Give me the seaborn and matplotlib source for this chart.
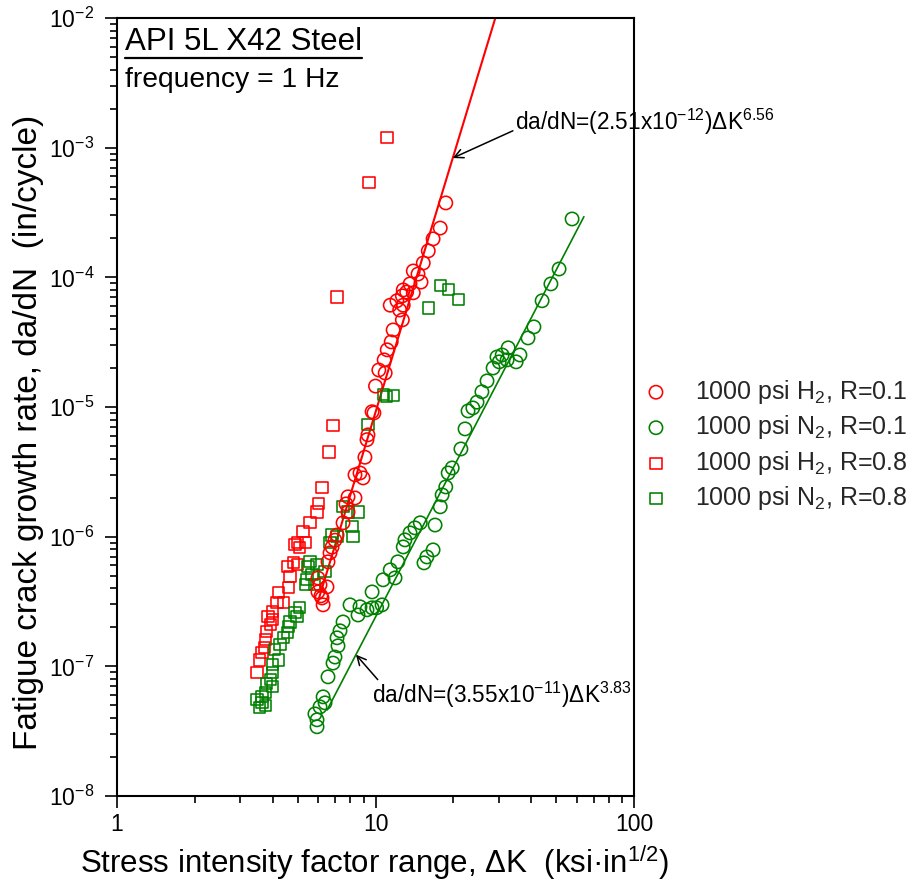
import numpy as np
import matplotlib
matplotlib.use("Agg")
import matplotlib.pyplot as plt
import matplotlib.ticker as mticker
from matplotlib.lines import Line2D
import seaborn as sns

# Stress intensity factor range dK (ksi*in^1/2) and growth rate da/dN (in/cycle)
h2_r01_dk = [18.7, 17.8, 16.7, 16.0, 15.3, 14.6, 14.0, 15.0, 13.6, 12.8, 13.2, 14.0,
             12.1, 12.7, 11.4, 12.8, 12.4, 12.7, 11.7, 11.5, 11.1, 10.8, 10.3, 10.9,
             10.0, 9.7, 9.86, 9.35, 9.27, 9.1, 8.33, 8.71, 8.95, 7.83, 8.33, 7.69,
             7.83, 7.49, 7.10, 6.97, 6.79, 6.67, 6.55, 5.99, 6.10, 6.49, 5.99, 6.21,
             6.27, 6.15]
h2_r01_rate = [3.75e-4, 2.4e-4, 1.98e-4, 1.6e-4, 1.29e-4, 1.06e-4, 1.12e-4, 9.2e-5,
               8.9e-5, 8.0e-5, 7.7e-5, 7.6e-5, 6.6e-5, 7.2e-5, 6.1e-5, 6.1e-5, 5.6e-5,
               4.7e-5, 3.93e-5, 3.18e-5, 2.76e-5, 2.31e-5, 1.93e-5, 1.83e-5, 1.45e-5,
               9.2e-6, 9.0e-6, 6.1e-6, 5.6e-6, 4.1e-6, 3.0e-6, 3.1e-6, 2.84e-6, 2.03e-6,
               1.99e-6, 1.79e-6, 1.55e-6, 1.28e-6, 1.03e-6, 9.4e-7, 8.3e-7, 7.5e-7,
               6.4e-7, 4.8e-7, 4.25e-7, 4.1e-7, 3.75e-7, 3.37e-7, 2.98e-7, 3.5e-7]

n2_r01_dk = [57.6, 51.3, 47.7, 44.1, 41.0, 38.9, 36.2, 35.0, 32.6, 32.3, 30.9, 29.5,
             30.1, 28.5, 27.0, 25.8, 24.7, 23.8, 22.8, 22.2, 21.4, 19.8, 19.1, 18.7,
             18.1, 17.8, 17.0, 16.7, 15.8, 15.4, 14.9, 14.2, 13.6, 13.0, 12.8, 12.2,
             11.4, 10.7, 11.9, 9.7, 10.6, 10.1, 9.7, 9.27, 8.71, 7.97, 8.56, 7.49,
             7.29, 7.10, 7.16, 6.97, 6.85, 6.55, 6.27, 6.38, 6.10, 5.83, 5.94, 5.94]
n2_r01_rate = [2.82e-4, 1.16e-4, 8.9e-5, 6.6e-5, 4.15e-5, 3.41e-5, 2.52e-5, 2.23e-5,
               2.86e-5, 2.31e-5, 2.52e-5, 2.43e-5, 2.23e-5, 2.0e-5, 1.59e-5, 1.31e-5,
               1.09e-5, 9.84e-6, 9.33e-6, 6.78e-6, 4.75e-6, 3.39e-6, 3.1e-6, 2.42e-6,
               2.1e-6, 1.7e-6, 1.23e-6, 7.91e-7, 6.98e-7, 6.28e-7, 1.28e-6, 1.17e-6,
               1.07e-6, 9.45e-7, 8.34e-7, 6.4e-7, 5.55e-7, 4.65e-7, 4.81e-7, 3.75e-7,
               2.98e-7, 2.83e-7, 2.83e-7, 2.73e-7, 2.88e-7, 2.98e-7, 2.49e-7, 2.2e-7,
               1.88e-7, 1.66e-7, 1.44e-7, 1.18e-7, 1.06e-7, 8.3e-8, 5.82e-8, 5.23e-8,
               4.87e-8, 4.3e-8, 3.87e-8, 3.42e-8]

h2_r08_dk = [11.08, 9.44, 7.10, 6.85, 6.61, 6.21, 6.04, 5.94, 5.58, 5.24, 5.34, 5.01,
             4.88, 5.10, 4.80, 5.01, 4.55, 4.67, 4.59, 4.20, 4.39, 4.16, 3.98, 3.84,
             3.98, 3.91, 3.80, 3.74, 3.71, 3.64, 3.57, 3.48]
h2_r08_rate = [1.19e-3, 5.35e-4, 7.06e-5, 7.15e-6, 4.5e-6, 2.38e-6, 1.79e-6, 1.55e-6,
               1.28e-6, 1.09e-6, 8.96e-7, 8.96e-7, 8.65e-7, 8.2e-7, 6.28e-7, 6.06e-7,
               5.85e-7, 4.9e-7, 4.03e-7, 3.69e-7, 3.09e-7, 3.09e-7, 2.63e-7, 2.41e-7,
               2.28e-7, 2.09e-7, 1.85e-7, 1.6e-7, 1.39e-7, 1.27e-7, 1.12e-7, 8.9e-8]

n2_r08_dk = [17.9, 19.1, 21.0, 16.0, 10.7, 11.0, 11.7, 9.35, 7.49, 7.83, 8.56, 8.11,
             8.18, 7.10, 6.79, 6.67, 6.38, 5.94, 5.58, 5.48, 5.68, 5.43, 5.34, 5.83,
             5.10, 4.88, 4.97, 4.67, 4.59, 4.55, 4.39, 4.27, 4.08, 4.20, 4.01, 3.98,
             3.91, 3.80, 4.01, 3.74, 3.64, 3.48, 3.64, 3.74, 3.57]
n2_r08_rate = [8.6e-5, 8.1e-5, 6.7e-5, 5.8e-5, 1.24e-5, 1.2e-5, 1.22e-5, 7.3e-6, 1.7e-6,
               1.55e-6, 1.55e-6, 1.19e-6, 9.96e-7, 9.96e-7, 1.03e-6, 8.96e-7, 5.35e-7,
               6.06e-7, 6.4e-7, 5.85e-7, 5.08e-7, 4.65e-7, 4.25e-7, 4.25e-7, 2.83e-7,
               2.59e-7, 2.41e-7, 2.2e-7, 2.02e-7, 1.81e-7, 1.66e-7, 1.47e-7, 1.34e-7,
               1.12e-7, 1.03e-7, 8.9e-8, 7.87e-8, 7.33e-8, 6.95e-8, 6.25e-8, 5.82e-8,
               5.52e-8, 5.23e-8, 4.96e-8, 4.79e-8]

series_labels = ["1000 psi H$_2$, R=0.1", "1000 psi N$_2$, R=0.1",
                 "1000 psi H$_2$, R=0.8", "1000 psi N$_2$, R=0.8"]

# Paris-law fits: da/dN = C * dK^m, over the dK span of each fit
fit_h2 = dict(C=2.51e-12, m=6.56, dk_lo=6.0, dk_hi=30.0)
fit_n2 = dict(C=3.55e-11, m=3.83, dk_lo=6.5, dk_hi=64.0)

x_ticks = [1, 10, 100]

RED = "#ff0000"
GREEN = "#008000"

sns.set_theme(style="ticks")
plt.rcParams["font.family"] = ["Liberation Sans", "DejaVu Sans"]
plt.rcParams["mathtext.fontset"] = "custom"
plt.rcParams["mathtext.rm"] = "Liberation Sans"
plt.rcParams["mathtext.it"] = "Liberation Sans:italic"
plt.rcParams["mathtext.bf"] = "Liberation Sans:bold"
plt.rcParams["mathtext.default"] = "regular"
plt.rcParams["axes.unicode_minus"] = False

fig = plt.figure(figsize=(9.19, 8.83), dpi=100)
ax = fig.add_axes([0.1273, 0.0985, 0.5626, 0.8811])
ax.set_xscale("log")
ax.set_yscale("log")


def draw_series(dk, rate, color, marker, size, label):
    sns.scatterplot(x=dk, y=rate, ax=ax, marker=marker, s=size, color=color,
                    facecolors="none", edgecolor=color, linewidth=1.15,
                    label=label, legend=False, zorder=3)
    return ax.collections[-1]


def draw_fit(fit, color, lw):
    dk = np.geomspace(fit["dk_lo"], fit["dk_hi"], 200)
    sns.lineplot(x=dk, y=fit["C"] * dk ** fit["m"], ax=ax, color=color,
                 linewidth=lw, zorder=2)


draw_fit(fit_h2, RED, 1.5)
draw_fit(fit_n2, GREEN, 1.2)

h_h2_r08 = draw_series(h2_r08_dk, h2_r08_rate, RED, "s", 64, series_labels[2])
h_n2_r08 = draw_series(n2_r08_dk, n2_r08_rate, GREEN, "s", 64, series_labels[3])
h_h2_r01 = draw_series(h2_r01_dk, h2_r01_rate, RED, "o", 92, series_labels[0])
h_n2_r01 = draw_series(n2_r01_dk, n2_r01_rate, GREEN, "o", 92, series_labels[1])

ax.set_xlim(1, 100)
ax.set_ylim(1e-8, 1e-2)

# axes frame and ticks
for side in ["left", "right", "top", "bottom"]:
    ax.spines[side].set_visible(True)
    ax.spines[side].set_color("black")
    ax.spines[side].set_linewidth(1.5)

ax.xaxis.set_major_locator(mticker.FixedLocator(x_ticks))
ax.xaxis.set_major_formatter(mticker.FixedFormatter([str(v) for v in x_ticks]))
ax.xaxis.set_minor_locator(mticker.LogLocator(base=10, subs=np.arange(2, 10), numticks=12))
ax.xaxis.set_minor_formatter(mticker.NullFormatter())
ax.yaxis.set_major_locator(mticker.LogLocator(base=10, numticks=12))
ax.yaxis.set_major_formatter(mticker.LogFormatterMathtext())
ax.yaxis.set_minor_locator(mticker.LogLocator(base=10, subs=np.arange(2, 10), numticks=12))
ax.yaxis.set_minor_formatter(mticker.NullFormatter())

ax.tick_params(which="both", direction="out", top=False, right=False,
               left=True, bottom=True, color="black", width=1.2)
ax.tick_params(which="major", length=8.5, labelsize=16.5, labelcolor="black")
ax.tick_params(which="minor", length=5)
ax.tick_params(axis="x", which="major", pad=4)
ax.tick_params(axis="y", which="major", pad=8)

ax.set_xlabel("Stress intensity factor range, \u0394K  (ksi\u00b7in$^{1/2}$)",
              fontsize=22.5, color="black", va="baseline")
ax.set_ylabel("Fatigue crack growth rate, da/dN  (in/cycle)",
              fontsize=24, color="black")
ax.xaxis.set_label_coords(0.499, -0.0985)
ax.yaxis.set_label_coords(-0.141, 0.468)

# material / test condition
title = ax.text(0.0155, 0.959, "API 5L X42 Steel", transform=ax.transAxes,
                fontsize=22.5, ha="left", va="baseline", color="black")
ax.text(0.0155, 0.911, "frequency = 1 Hz", transform=ax.transAxes,
        fontsize=20.3, ha="left", va="baseline", color="black")

# fit equations with pointers to their lines
tip_h2 = 19.9
ax.annotate("", xy=(tip_h2, fit_h2["C"] * tip_h2 ** fit_h2["m"]),
            xytext=(34.0, 1.35e-3),
            arrowprops=dict(arrowstyle="->", color="black", lw=1.1,
                            shrinkA=0, shrinkB=0, mutation_scale=16))
ax.text(34.7, 1.37e-3,
        f"da/dN=({fit_h2['C'] * 1e12:.2f}x10$^{{-12}}$)\u0394K$^{{{fit_h2['m']:.2f}}}$",
        fontsize=16.3, ha="left", va="baseline", color="black")

tip_n2 = 8.4
ax.annotate("", xy=(tip_n2, fit_n2["C"] * tip_n2 ** fit_n2["m"]),
            xytext=(10.2, 7.9e-8),
            arrowprops=dict(arrowstyle="->", color="black", lw=1.1,
                            shrinkA=0, shrinkB=0, mutation_scale=16))
ax.text(9.69, 5.24e-8,
        f"da/dN=({fit_n2['C'] * 1e11:.2f}x10$^{{-11}}$)\u0394K$^{{{fit_n2['m']:.2f}}}$",
        fontsize=16.3, ha="left", va="baseline", color="black")

fig.legend(handles=[h_h2_r01, h_n2_r01, h_h2_r08, h_n2_r08],
           labels=series_labels, loc="center left",
           bbox_to_anchor=(0.692, 0.496), frameon=False, fontsize=18,
           handlelength=1.6, handletextpad=0.75, labelspacing=0.3,
           borderpad=0, borderaxespad=0, scatterpoints=1)

# underline beneath the material name
fig.canvas.draw()
bb = title.get_window_extent()
W, H = fig.bbox.width, fig.bbox.height
fig.add_artist(Line2D([bb.x0 / W, bb.x1 / W], [(bb.y0 - 1) / H, (bb.y0 - 1) / H],
                      transform=fig.transFigure, color="black", linewidth=1.6))

fig.savefig("out.png", dpi=100)
